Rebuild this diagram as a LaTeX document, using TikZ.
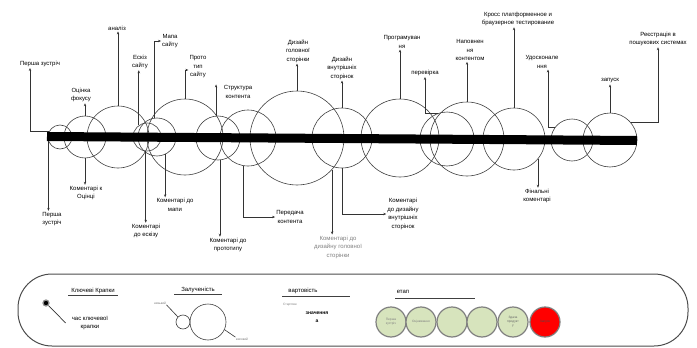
\documentclass[tikz,border=0pt]{standalone}
\usepackage{fontspec}
\setmainfont{Liberation Sans}
\usetikzlibrary{arrows.meta}
\definecolor{stagegreen}{HTML}{D7E4BD}
\definecolor{stagered}{HTML}{FF0000}
\begin{document}
\begin{tikzpicture}[x=1pt,y=-1pt,
  stage/.style={circle,draw=black!75,line width=0.6pt,minimum size=#1,inner sep=0pt},
  lbl/.style={font=\fontsize{6}{8.5}\selectfont,align=center,inner sep=1pt},
  tiny/.style={font=\fontsize{3.2}{4}\selectfont,align=center,inner sep=0.5pt},
  lead/.style={draw=black!80,line width=0.7pt,-{Stealth[length=3pt,width=2.4pt]}},
  uline/.style={draw=black!75,line width=0.8pt},
  legstage/.style={circle,draw=black!50,line width=1.2pt,fill=stagegreen,minimum size=30pt,inner sep=0pt},
]
\useasboundingbox (0,0) rectangle (697,348);

% stage circles along the timeline
\node[stage=24pt] (c1) at (60,137) {};
\node[stage=42pt] (c2) at (85,137) {};
\node[stage=62pt] (c3) at (118,137) {};
\node[stage=28pt] (c4) at (147,137) {};
\node[stage=38pt] (c5) at (157,137) {};
\node[stage=76pt] (c6) at (185,137) {};
\node[stage=44pt] (c7) at (218,138) {};
\node[stage=56pt] (c8) at (248,138) {};
\node[stage=94pt] (c9) at (297,138) {};
\node[stage=60pt] (c10) at (342,138) {};
\node[stage=78pt] (c11) at (400,138) {};
\node[stage=54pt] (c12) at (447,139) {};
\node[stage=74pt] (c13) at (467,139) {};
\node[stage=62pt] (c14) at (514,139) {};
\node[stage=42pt] (c15) at (572,140) {};
\node[stage=54pt] (c16) at (610,140) {};

% the time bar
\coordinate (barL) at (47,136.5);
\coordinate (barR) at (637,140.5);
\draw[line width=9pt] (barL) -- (barR);

% labels above the bar
\node[lbl] (t1) at (40,64) {Перша зустріч};
\node[lbl] (t2) at (81,95) {Оцінка\\фокусу};
\node[lbl] (t3) at (117,28) {аналіз};
\node[lbl] (t4) at (140,62) {Ескіз\\сайту};
\node[lbl] (t5) at (170,41) {Мапа\\сайту};
\node[lbl] (t6) at (198,67) {Прото\\тип\\сайту};
\node[lbl] (t7) at (238,92) {Структура\\контента};
\node[lbl] (t8) at (298,51) {Дизайн\\головної\\сторінки};
\node[lbl] (t9) at (342,68) {Дизайн\\внутрішніх\\сторінок};
\node[lbl] (t10) at (402,42) {Програмуван\\ня};
\node[lbl] (t11) at (425,73) {перевірка};
\node[lbl] (t12) at (470,50) {Наповнен\\ня\\контентом};
\node[lbl] (t13) at (518,19) {Кросс платформенное и\\браузерное тестирование};
\node[lbl] (t14) at (542,62) {Удосконале\\ння};
\node[lbl] (t15) at (610,81) {запуск};
\node[lbl] (t16) at (658,39) {Реєстрація в\\пошукових системах};

% labels below the bar
\node[lbl] (b1) at (52,219) {Перша\\зустріч};
\node[lbl] (b2) at (86,193) {Коментарі к\\Оцінці};
\node[lbl] (b3) at (146,231) {Коментарі\\до ескізу};
\node[lbl] (b4) at (175,205) {Коментарі до\\мапи};
\node[lbl] (b5) at (228,245) {Коментарі до\\прототипу};
\node[lbl] (b6) at (290,217) {Передача\\контента};
\node[lbl,text=black!50] (b7) at (338,247) {Коментарі до\\дизайну головної\\сторінки};
\node[lbl] (b8) at (403,214) {Коментарі\\до дизайну\\внутрішніх\\сторінок};
\node[lbl] (b9) at (537,196) {Фінальні\\коментарі};

% leaders up to the stage labels
\draw[lead] (c1.150) -| ([xshift=-10pt]t1.south);
\draw[lead] (c2.north) -- (c2.north |- t2.south);
\draw[lead] (c3.north) -- (c3.north |- t3.south);
\draw[lead] (c4.125) -- (c4.125 |- t4.south);
\draw[lead] (c5.99) |- (t5.west);
\draw[lead] (c6.north) |- ([yshift=-3pt]t6.west);
\draw[lead] (c7.95) -- (c7.95 |- t7.north);
\draw[lead] (c9.north) -- (c9.north |- t8.south);
\draw[lead] (c10.north) -- (c10.north |- t9.south);
\draw[lead] (c11.north) -- (c11.north |- t10.south);
\draw[lead] (c12.110) -| (t11.south);
\draw[lead] (c13.north) -- (c13.north |- t12.south);
\draw[lead] (c14.north) -- (c14.north |- t13.south);
\draw[lead] (c15.145) -| ([xshift=6pt]t14.south);
\draw[lead] (c16.north) -- (c16.north |- t15.south);
\draw[lead] (c16.40) -| (t16.south);

% leaders down to the client labels
\draw[lead] (c1.200) -- (c1.200 |- b1.north);
\draw[lead] (c2.south) -- (c2.south |- b2.north);
\draw[lead] (c4.265) -- (c4.265 |- b3.north);
\draw[lead] (c5.-65) -- (c5.-65 |- b4.north);
\draw[lead] (c7.-85) -- (c7.-85 |- b5.north);
\draw[lead] (c8.-100) |- (b6.west);
\draw[lead] (c9.-42) -- (c9.-42 |- b7.north);
\draw[lead] (c10.south) |- (b8.west);
\draw[lead] (c14.-40) -- (c14.-40 |- b9.north);

% legend frame
\node[draw=black!70,line width=1pt,rounded corners=34pt,minimum width=670pt,minimum height=72pt,inner sep=0pt] (legend) at (353,310) {};

% legend: key points
\node[lbl] (kh) at (93,291) {Ключеві Крапки};
\draw[uline] ([xshift=-2pt]kh.south west) -- ([xshift=2pt]kh.south east);
\node[circle,fill=black,draw=black!45,line width=1.2pt,minimum size=6pt,inner sep=0pt] (kd) at (46,303) {};
\node[lbl] (kt) at (90,323) {час ключевої\\крапки};
\draw[draw=black!80,line width=0.7pt] (kd) -- ([xshift=-5pt]kt.west);

% legend: involvement
\node[lbl] (zh) at (198,290) {Залученість};
\draw[uline] ([xshift=-6pt]zh.south west) -- ([xshift=6pt]zh.south east);
\node[stage=14pt] (zs) at (183,322) {};
\node[stage=36pt] (zb) at (208,322) {};
\node[tiny,text=black!55] (zlo) at (160,303) {низький};
\node[tiny,text=black!55] (zhi) at (242,339) {високий};
\draw[draw=black!80,line width=0.6pt] (zlo.south east) -- (zs.135);
\draw[draw=black!80,line width=0.6pt] (zb.-25) -- (zhi.north west);

% legend: cost
\node[lbl] (vh) at (303,291) {вартовість};
\draw[uline] (282,296) -- (350,296);
\node[tiny,text=black!50] (vs) at (290,305) {Стартове};
\node[lbl,font=\bfseries\fontsize{5}{8}\selectfont] (vv) at (317,317) {значення\\а};

% legend: stage
\node[lbl] (eh) at (403,292) {етап};
\draw[uline] (395,298) -- (475,298);
\node[legstage] (e1) at (391,322) {};
\node[legstage] (e2) at (421,322) {};
\node[legstage] (e3) at (452,322) {};
\node[legstage] (e4) at (482,322) {};
\node[legstage] (e5) at (513,322) {};
\node[legstage,fill=stagered] (e6) at (545,322) {};
\node[tiny,text=black!50] at (e1) {Перша\\зустріч};
\node[tiny,text=black!50] at (e2) {Оцінювання};
\node[tiny,text=black!60] at (e5) {Здача\\продукт\\у};
\node[tiny,text=black!70] at (e6) {Запуск};
\end{tikzpicture}
\end{document}
